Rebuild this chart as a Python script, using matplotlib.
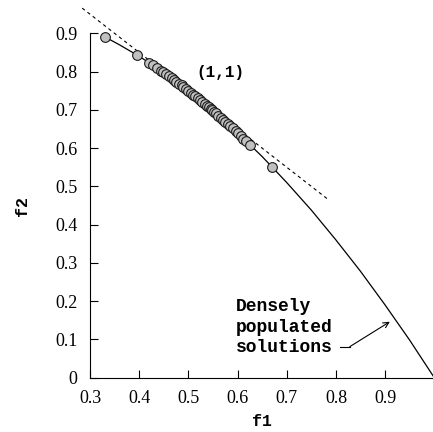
import matplotlib
matplotlib.use("Agg")
import matplotlib.pyplot as plt

# pareto front
front_f1 = [0.33, 0.36, 0.40, 0.45, 0.50, 0.55, 0.60, 0.65, 0.70, 0.75, 0.80, 0.825,
            0.85, 0.875, 0.90, 0.925, 0.95, 0.975, 1.00]
front_f2 = [0.891, 0.870, 0.840, 0.798, 0.750, 0.698, 0.640, 0.578, 0.510, 0.438, 0.360,
            0.319, 0.278, 0.234, 0.190, 0.144, 0.098, 0.049, 0.0]

# solutions found
sol_f1 = [0.3305, 0.3955, 0.4205, 0.428, 0.436, 0.444, 0.449, 0.455, 0.46, 0.466, 0.47,
          0.475, 0.481, 0.486, 0.49, 0.495, 0.5, 0.505, 0.51, 0.514, 0.519, 0.524, 0.528,
          0.533, 0.538, 0.541, 0.545, 0.548, 0.552, 0.556, 0.561, 0.566, 0.571, 0.575,
          0.58, 0.585, 0.59, 0.596, 0.601, 0.606, 0.612, 0.618, 0.625, 0.6705]
sol_f2 = [0.891, 0.844, 0.823, 0.817, 0.810, 0.803, 0.798, 0.793, 0.788, 0.783, 0.779,
          0.774, 0.769, 0.764, 0.760, 0.755, 0.750, 0.745, 0.740, 0.736, 0.731, 0.725, 0.721,
          0.716, 0.711, 0.707, 0.703, 0.700, 0.695, 0.691, 0.685, 0.680, 0.674, 0.669,
          0.664, 0.658, 0.652, 0.645, 0.639, 0.633, 0.625, 0.618, 0.609, 0.550]

# tangent for weight (1,1)
tan_f1 = [0.284, 0.785]
tan_f2 = [0.966, 0.465]

xticks = [0.3, 0.4, 0.5, 0.6, 0.7, 0.8, 0.9]
xlabels = ["0.3", "0.4", "0.5", "0.6", "0.7", "0.8", "0.9"]
yticks = [0, 0.1, 0.2, 0.3, 0.4, 0.5, 0.6, 0.7, 0.8, 0.9]
ylabels = ["0", "0.1", "0.2", "0.3", "0.4", "0.5", "0.6", "0.7", "0.8", "0.9"]

serif = "Liberation Serif"
mono = "Liberation Mono"

fig = plt.figure(figsize=(4.33, 4.32), dpi=100)
ax = fig.add_axes([0.208, 0.1257, 0.795, 0.797])

ax.plot(front_f1, front_f2, color="black", lw=0.9, zorder=2)
ax.plot(tan_f1, tan_f2, color="black", lw=0.8, ls=(0, (3, 3)), clip_on=False, zorder=1)
ax.plot(sol_f1, sol_f2, ls="none", marker="o", ms=7, mfc="#c0c0c0", mec="#1a1a1a",
        mew=0.8, clip_on=False, zorder=3)

ax.set_xlim(0.3, 1.0)
ax.set_ylim(0, 0.9)
ax.spines["top"].set_visible(False)
ax.spines["right"].set_visible(False)
ax.set_xticks(xticks)
ax.set_xticklabels(xlabels, fontfamily=serif, fontsize=13)
ax.set_yticks(yticks)
ax.set_yticklabels(ylabels, fontfamily=serif, fontsize=13)
ax.tick_params(direction="in", length=6, width=0.8)
ax.tick_params(axis="y", pad=9)
ax.tick_params(axis="x", pad=9)

ax.set_xlabel("f1", fontfamily=mono, fontweight="bold", fontsize=12, labelpad=5)
ax.set_ylabel("f2", fontfamily=mono, fontweight="bold", fontsize=12, labelpad=18)

ax.text(0.566, 0.799, "(1,1)", fontfamily=mono, fontweight="bold", fontsize=11.5,
        ha="center", va="center")
ax.text(0.596, 0.1325, "Densely\npopulated\nsolutions", fontfamily=mono, fontweight="bold",
        fontsize=13, ha="left", va="center", linespacing=1.3)
ax.plot([0.808, 0.828], [0.081, 0.081], color="black", lw=0.8)
ax.annotate("", xy=(0.9096, 0.1463), xytext=(0.828, 0.081),
            arrowprops=dict(arrowstyle="->", color="black", lw=0.8, shrinkA=0, shrinkB=0))

fig.savefig("out.png", dpi=100)
